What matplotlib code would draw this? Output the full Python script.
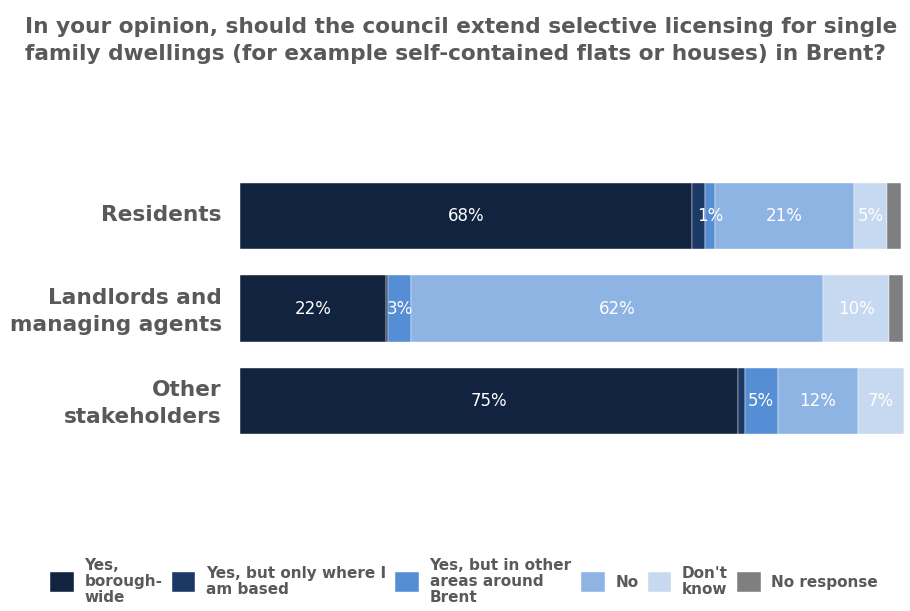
import numpy as np
import matplotlib.pyplot as plt

plt.rcParams['font.family'] = ['DejaVu Sans']

groups = ["Residents", "Landlords and\nmanaging agents", "Other\nstakeholders"]
responses = ["Yes,\nborough-\nwide", "Yes, but only where I\nam based",
             "Yes, but in other\nareas around\nBrent", "No", "Don't\nknow", "No response"]

# percentage of each group giving each response
borough_wide = [68, 22, 75]
where_based = [2, 0.3, 1]
other_areas = [1.5, 3.5, 5]
no = [21, 62, 12]
dont_know = [5, 10, 7]
no_response = [2, 2, 0.5]

# printed labels (blank where the chart shows none)
label_text = [
    ["68%", "22%", "75%"],
    ["", "", ""],
    ["1%", "3%", "5%"],
    ["21%", "62%", "12%"],
    ["5%", "10%", "7%"],
    ["", "", ""],
]

colors = ["#12233f", "#1c3865", "#558ed5", "#8eb4e3", "#c6d9f1", "#7f7f7f"]
grey = "#595959"

series = [borough_wide, where_based, other_areas, no, dont_know, no_response]

fig = plt.figure(figsize=(9.1, 6.11), dpi=100)
ax = fig.add_axes([0.2637, 0.268, 0.7297, 0.454])

y = np.arange(len(groups))
left = np.zeros(len(groups))
for vals, col, name, labs in zip(series, colors, responses, label_text):
    vals = np.array(vals, dtype=float)
    bars = ax.barh(y, vals, left=left, height=0.72, color=col, label=name,
                   edgecolor="white", linewidth=0.3)
    for b, t in zip(bars, labs):
        if t:
            ax.text(b.get_x() + b.get_width() / 2, b.get_y() + b.get_height() / 2, t,
                    ha="center", va="center", color="white", fontsize=12)
    left += vals

ax.set_xlim(0, 100)
ax.set_ylim(2.5, -0.5)
ax.set_yticks(y - 0.03)
ax.set_yticklabels(groups, fontsize=15.6, fontweight="bold", color=grey)
ax.tick_params(axis="y", length=0, pad=13)
ax.set_xticks([])
for s in ax.spines.values():
    s.set_visible(False)
for t in ax.get_yticklabels():
    t.set_multialignment("right")
    t.set_linespacing(1.45)

fig.text(0.028, 0.972, "In your opinion, should the council extend selective licensing for single\n"
         "family dwellings (for example self-contained flats or houses) in Brent?",
         ha="left", va="top", fontsize=15.6, fontweight="bold", color=grey, linespacing=1.4)

leg = fig.legend(loc="lower center", bbox_to_anchor=(0.51, -0.012), ncol=6, frameon=False,
                 fontsize=11, handlelength=1.55, handleheight=1.6, handletextpad=0.7,
                 columnspacing=0.6)
for t in leg.get_texts():
    t.set_color(grey)
    t.set_fontweight("bold")
    t.set_linespacing(1.08)

fig.savefig("out.png", dpi=100)
